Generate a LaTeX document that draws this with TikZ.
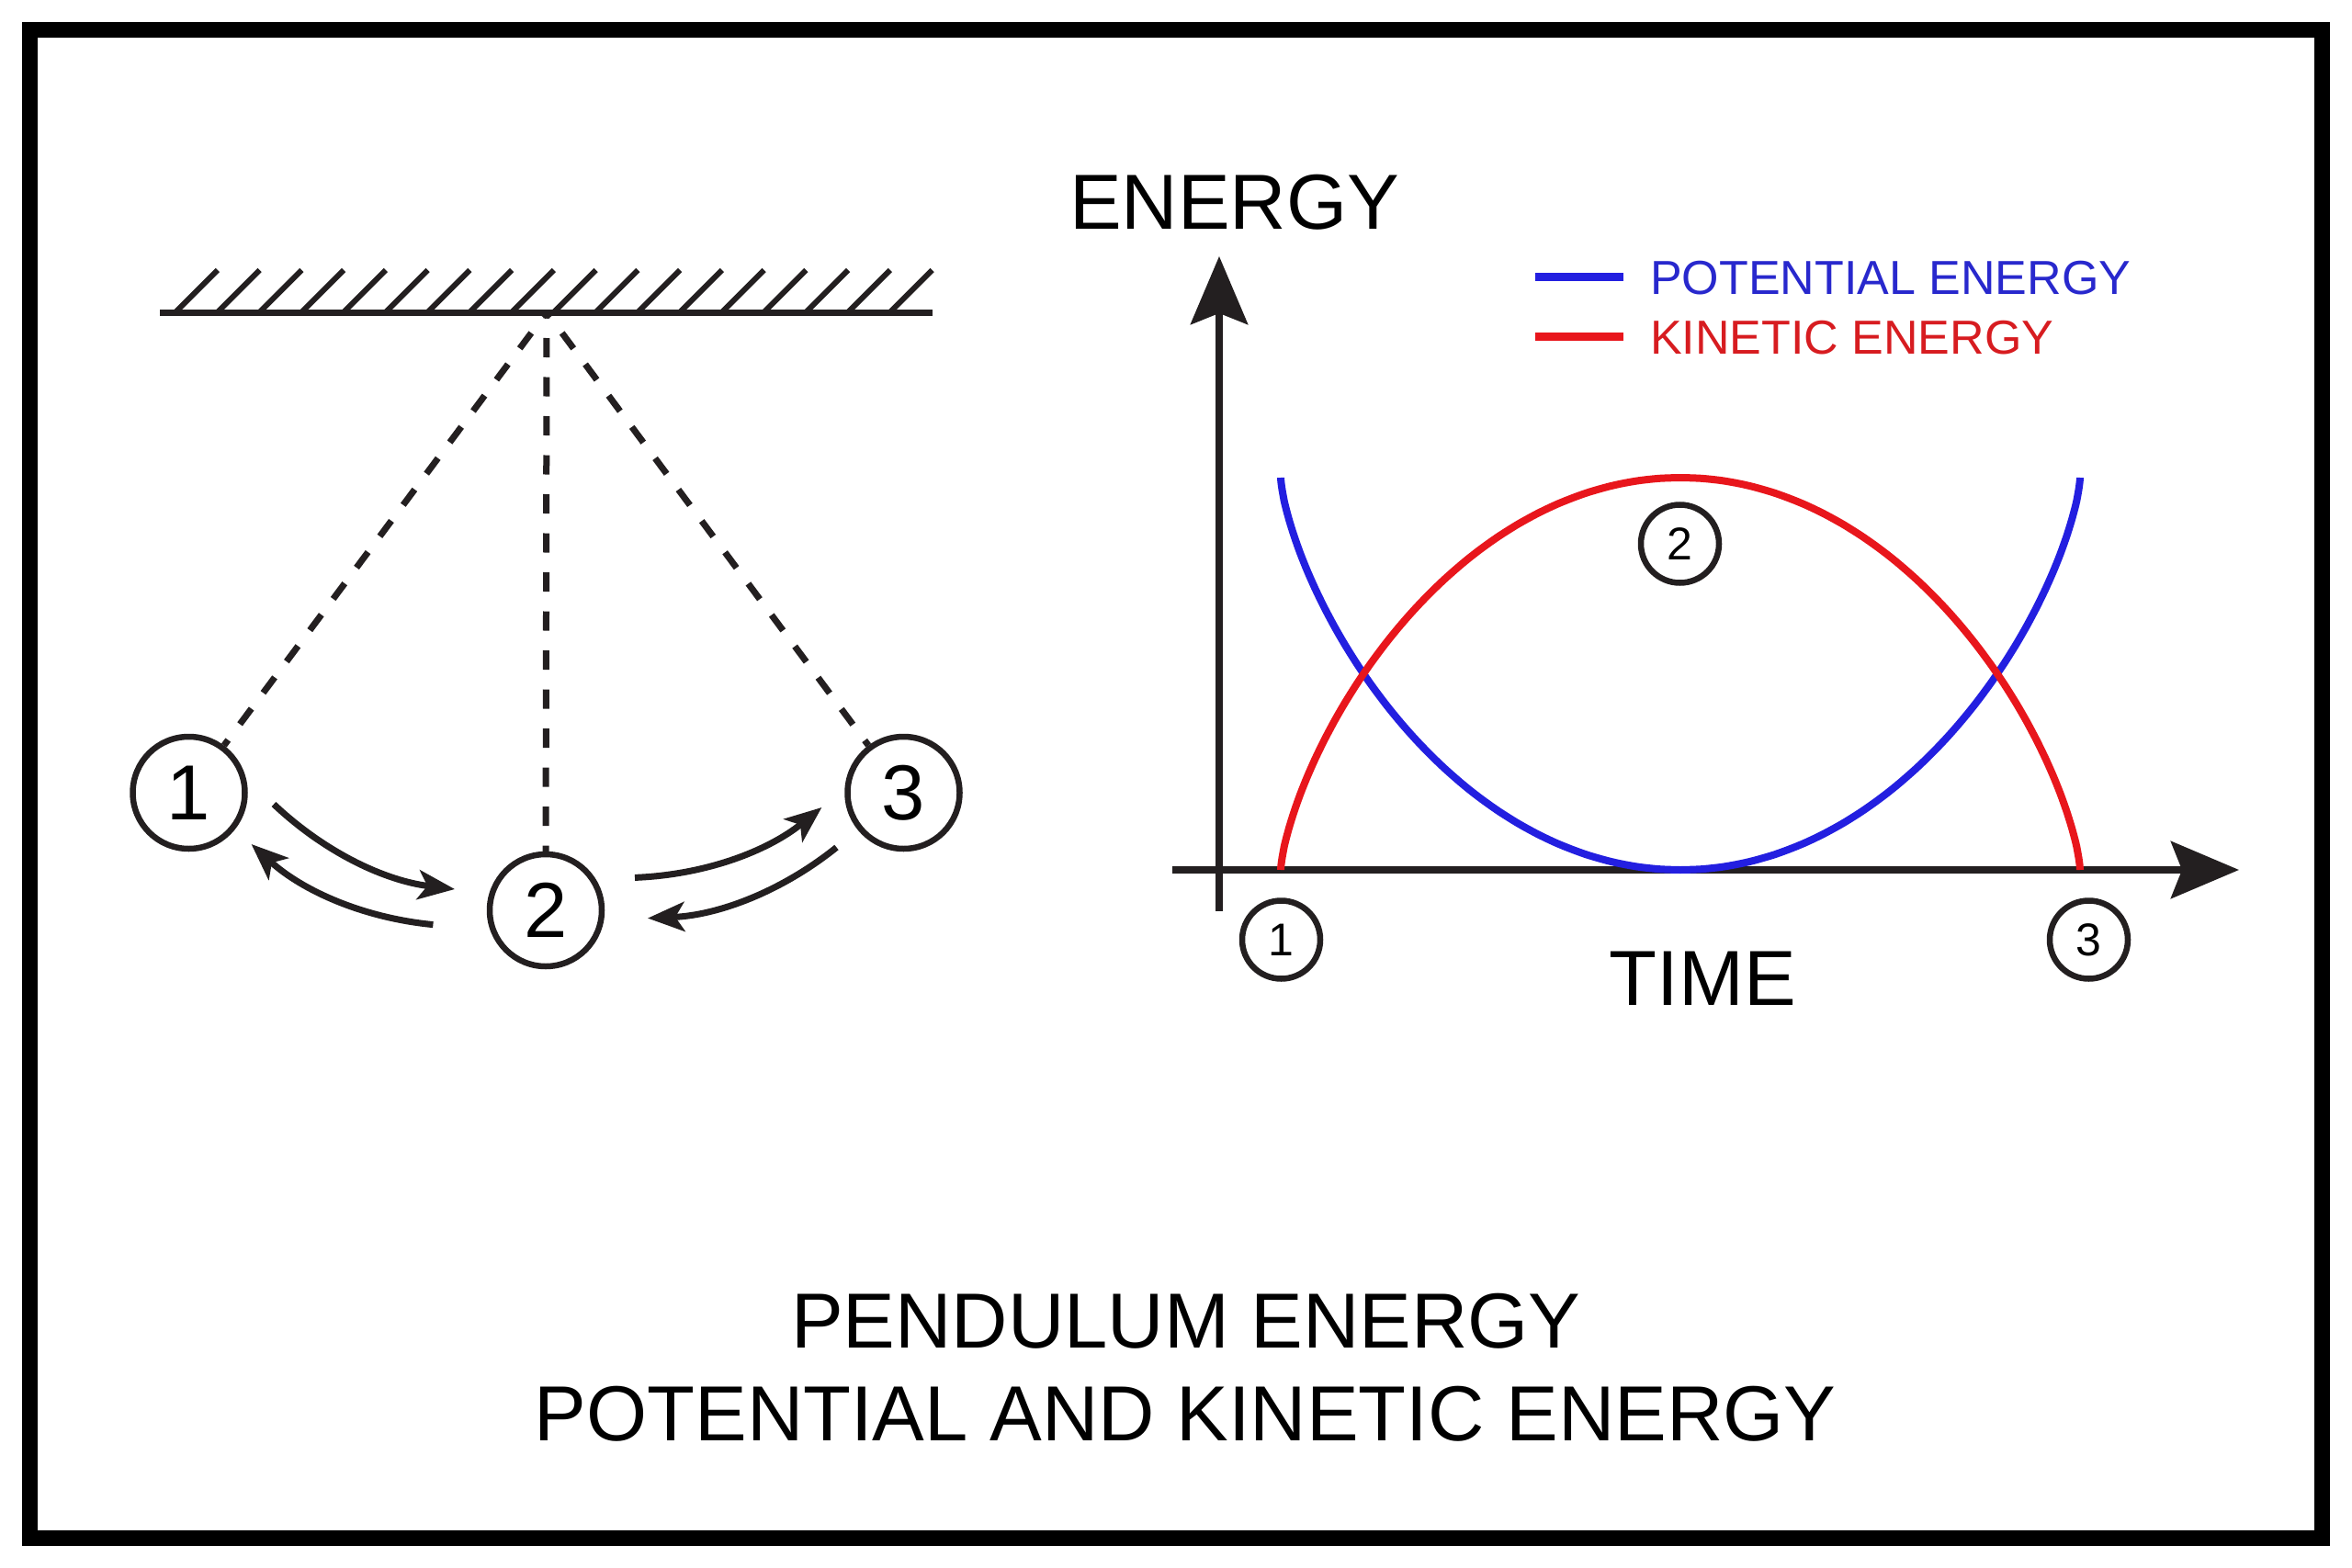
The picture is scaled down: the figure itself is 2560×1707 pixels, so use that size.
\documentclass[tikz,border=0pt]{standalone}
\usepackage{fontspec}
\setmainfont{Liberation Sans}
\usetikzlibrary{arrows.meta}
\definecolor{ink}{RGB}{35,31,32}
\definecolor{pblue}{RGB}{35,31,224}
\definecolor{kred}{RGB}{232,22,28}
\definecolor{pbluetext}{RGB}{40,40,205}
\definecolor{kredtext}{RGB}{215,28,32}
\begin{document}
\begin{tikzpicture}[x=1pt,y=-1pt,
  frame/.style={line width=17pt,black},
  ceiling/.style={line width=7pt,ink},
  hatch/.style={line width=6pt,ink},
  stringline/.style={line width=7pt,ink,dash pattern=on 21pt off 21.5pt,dash phase=14.5pt},
  bob/.style={circle,draw=ink,line width=6.5pt,minimum size=122pt,inner sep=0pt,font=\fontsize{85}{85}\selectfont},
  swing/.style={line width=7pt,ink,-{Stealth[length=40pt,width=32pt,inset=10pt]}},
  axisline/.style={line width=8pt,ink,-{Stealth[length=74pt,width=62pt,inset=12pt]}},
  tag/.style={circle,draw=ink,line width=6.5pt,minimum size=85pt,inner sep=0pt,font=\fontsize{50}{50}\selectfont},
  curve/.style={line width=8pt},
  big/.style={inner sep=0pt,font=\fontsize{85}{85}\selectfont},
  legendtext/.style={inner sep=0pt,font=\fontsize{52}{52}\selectfont}]
\fill[white] (0,0) rectangle (2560,1707);
\useasboundingbox (0,0) rectangle (2560,1707);
% frame
\draw[frame] (32.5,32.5) rectangle (2527,1674.5);
% ceiling
\coordinate (cl) at (174,340);
\coordinate (cr) at (1015,340);
\draw[ceiling] (cl) -- (cr);
\foreach \k in {0,...,17}{
  \draw[hatch] ({190.8+45.76*\k},340) -- ++(46,-46);
}
% pendulum
\coordinate (pivot) at (595,340);
\node[bob] (b1) at (205.5,863) {1};
\node[bob] (b2) at (594,991) {2};
\node[bob] (b3) at (983.5,863) {3};
\draw[stringline] (pivot) -- (b1);
\draw[stringline] (pivot) -- (b2);
\draw[stringline] (pivot) -- (b3);
% swing arrows
\coordinate (a1s) at (298,875.5);   \coordinate (a1e) at (495,968);
\coordinate (a2s) at (471.4,1006.6);\coordinate (a2e) at (273.6,919);
\coordinate (a3s) at (691,955.4);   \coordinate (a3e) at (894.4,879);
\coordinate (a4s) at (910.5,922.5); \coordinate (a4e) at (705,999.6);
\draw[swing] (a1s) .. controls (353.5,928) and (419.1,958.9) .. (a1e);
\draw[swing] (a2s) .. controls (395.8,999.3) and (329.8,970.1) .. (a2e);
\draw[swing] (a3s) .. controls (767.2,952.4) and (835,927) .. (a3e);
\draw[swing] (a4s) .. controls (850.4,970.7) and (781.9,996.4) .. (a4e);
% graph axes
\coordinate (yb) at (1327,992);
\coordinate (yt) at (1327,279);
\coordinate (xl) at (1276,947);
\coordinate (xr) at (2437,947);
\draw[axisline] (yb) -- (yt);
\draw[axisline] (xl) -- (xr);
% curves (u = sin t, h = cos(t)^1.4)
\draw[curve,pblue] plot[smooth,domain=-90:90,samples=121,variable=\t]
  ({1829+435*sin(\t)},{947-427*(1-pow(max(cos(\t),0.00001),1.4))});
\draw[curve,kred] plot[smooth,domain=-90:90,samples=121,variable=\t]
  ({1829+435*sin(\t)},{947-427*pow(max(cos(\t),0.00001),1.4)});
% tags
\node[tag] (t1) at (1394.5,1023) {1};
\node[tag] (t2) at (1828.5,592) {2};
\node[tag] (t3) at (2273.5,1023) {3};
% labels
\node[big,anchor=base west] (energy) at (1164,249.3) {ENERGY};
\node[big,anchor=base west] (time) at (1751.5,1094) {TIME};
% legend
\coordinate (lb1) at (1670.7,301.3); \coordinate (lb2) at (1766.7,301.3);
\coordinate (lr1) at (1670.7,366.3); \coordinate (lr2) at (1766.7,366.3);
\draw[curve,line width=9pt,pblue] (lb1) -- (lb2);
\draw[curve,line width=9pt,kred] (lr1) -- (lr2);
\node[legendtext,anchor=base west,text=pbluetext] (lp) at (1796,320.7) {POTENTIAL ENERGY};
\node[legendtext,anchor=base west,text=kredtext] (lk) at (1796,385.7) {KINETIC ENERGY};
% title
\node[big,anchor=base] (title1) at (1291,1467) {PENDULUM ENERGY};
\node[big,anchor=base] (title2) at (1290,1568) {POTENTIAL AND KINETIC ENERGY};
\end{tikzpicture}
\end{document}
